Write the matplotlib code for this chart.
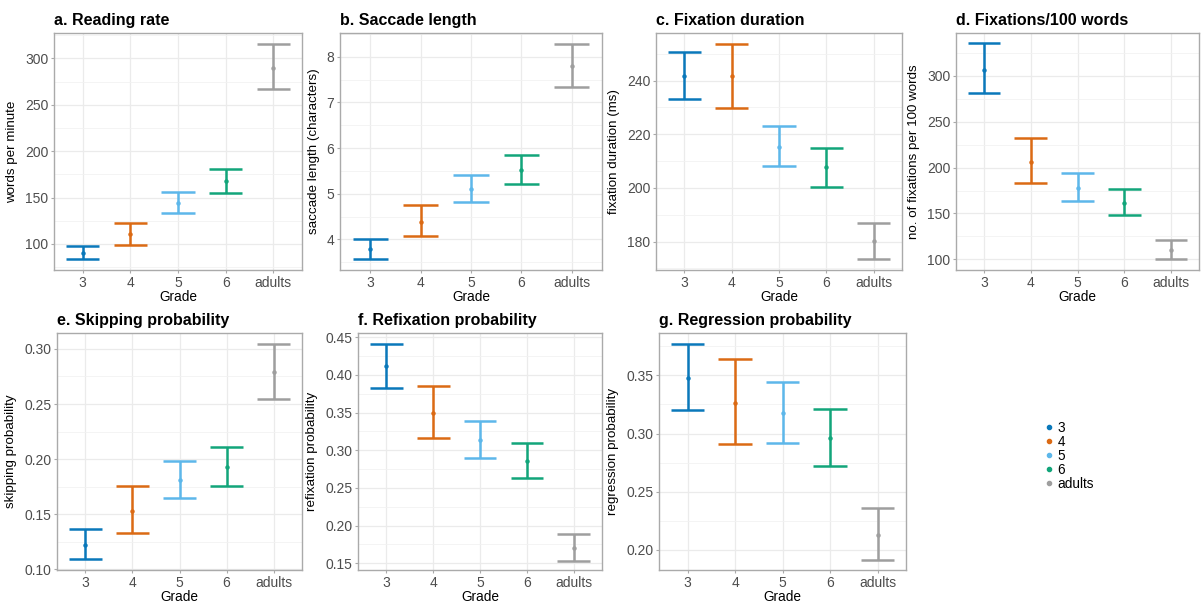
import numpy as np
import matplotlib
matplotlib.use("Agg")
import matplotlib.pyplot as plt
from matplotlib.lines import Line2D
from matplotlib.ticker import MultipleLocator

plt.rcParams['font.family'] = ['Liberation Sans', 'DejaVu Sans']

groups = ["3", "4", "5", "6", "adults"]
colors = ["#0A78BA", "#DB6A14", "#5DB7EA", "#12A57A", "#9E9E9E"]

# mean, lower, upper per group
rate_mean = [90.3, 110.8, 144.6, 167.4, 289.9]
rate_low = [83.4, 99.2, 133.8, 154.8, 266.5]
rate_high = [97.8, 123.0, 156.5, 181.0, 315.9]

sacc_mean = [3.78, 4.39, 5.11, 5.51, 7.79]
sacc_low = [3.56, 4.07, 4.82, 5.22, 7.33]
sacc_high = [4.00, 4.76, 5.40, 5.84, 8.28]

fixdur_mean = [241.6, 241.5, 215.2, 207.6, 180.1]
fixdur_low = [233.1, 229.9, 208.0, 200.4, 173.4]
fixdur_high = [250.5, 253.5, 222.9, 215.0, 186.9]

nfix_mean = [306.6, 206.1, 177.8, 161.6, 109.9]
nfix_low = [280.7, 183.1, 163.4, 148.3, 100.3]
nfix_high = [335.3, 232.3, 193.9, 176.4, 120.7]

skip_mean = [0.1226, 0.1528, 0.1812, 0.1929, 0.2786]
skip_low = [0.1099, 0.1327, 0.1645, 0.1760, 0.2546]
skip_high = [0.1367, 0.1760, 0.1985, 0.2108, 0.3042]

refix_mean = [0.4116, 0.3500, 0.3139, 0.2863, 0.1705]
refix_low = [0.3832, 0.3164, 0.2894, 0.2635, 0.1537]
refix_high = [0.4411, 0.3850, 0.3395, 0.3094, 0.1891]

regr_mean = [0.3477, 0.3260, 0.3174, 0.2961, 0.2129]
regr_low = [0.3199, 0.2908, 0.2916, 0.2719, 0.1917]
regr_high = [0.3769, 0.3641, 0.3445, 0.3213, 0.2358]

W, H = 1201, 603
fig = plt.figure(figsize=(W / 100, H / 100), dpi=100)


def px_axes(left, right, top, bottom):
    return fig.add_axes([left / W, 1 - bottom / H, (right - left) / W, (bottom - top) / H])


def panel(ax, title, ylabel, mean, low, high, ylim, major, fmt):
    x = np.arange(len(groups))
    for i in range(len(groups)):
        ax.vlines(x[i], low[i], high[i], color=colors[i], lw=1.8)
        ax.hlines([low[i], high[i]], x[i] - 0.35, x[i] + 0.35, color=colors[i], lw=1.8)
        ax.plot(x[i], mean[i], 'o', color=colors[i], ms=2.2)
    ax.set_ylim(*ylim)
    ax.set_xlim(-0.6, 4.6)
    ax.set_xticks(x)
    ax.set_xticklabels(groups)
    ax.yaxis.set_major_locator(MultipleLocator(major))
    ax.yaxis.set_minor_locator(MultipleLocator(major / 2))
    ax.yaxis.set_major_formatter(plt.FormatStrFormatter(fmt))
    ax.grid(True, which='major', color='#ebebeb', lw=0.9)
    ax.grid(True, which='minor', axis='y', color='#f2f2f2', lw=0.6)
    ax.set_axisbelow(True)
    for s in ax.spines.values():
        s.set_color('#aaaaaa')
        s.set_linewidth(1.0)
    ax.tick_params(which='major', colors='#4d4d4d', labelsize=10, length=2.5, width=0.8, pad=1.5)
    ax.tick_params(which='minor', length=0)
    ax.tick_params(axis='both', which='major', color='#aaaaaa')
    ax.set_xlabel("Grade", fontsize=9.8, labelpad=0)
    ax.set_ylabel(ylabel, fontsize=9.6, labelpad=5)
    ax.set_title(title, fontsize=11.5, fontweight='bold', loc='left', pad=6)


ax = px_axes(54, 302, 33, 270)
panel(ax, "a. Reading rate", "words per minute", rate_mean, rate_low, rate_high,
      (71.9, 327.4), 50, '%d')
ax = px_axes(340, 602, 33, 270)
panel(ax, "b. Saccade length", "saccade length (characters)", sacc_mean, sacc_low, sacc_high,
      (3.33, 8.52), 1, '%d')
ax = px_axes(656, 902, 33, 270)
panel(ax, "c. Fixation duration", "fixation duration (ms)", fixdur_mean, fixdur_low, fixdur_high,
      (169.4, 257.7), 20, '%d')
ax = px_axes(956, 1199, 33, 270)
panel(ax, "d. Fixations/100 words", "no. of fixations per 100 words", nfix_mean, nfix_low, nfix_high,
      (88.4, 346.6), 50, '%d')
ax = px_axes(57, 302, 333, 570)
panel(ax, "e. Skipping probability", "skipping probability", skip_mean, skip_low, skip_high,
      (0.0995, 0.3144), 0.05, '%.2f')
ax = px_axes(358, 602, 333, 570)
panel(ax, "f. Refixation probability", "refixation probability", refix_mean, refix_low, refix_high,
      (0.1411, 0.4557), 0.05, '%.2f')
ax = px_axes(659, 906, 333, 570)
panel(ax, "g. Regression probability", "regression probability", regr_mean, regr_low, regr_high,
      (0.1828, 0.3863), 0.05, '%.2f')

handles = [Line2D([], [], marker='o', ls='none', color=c, ms=3) for c in colors]
fig.legend(handles, groups, loc='center left', bbox_to_anchor=(1044 / W, 1 - 456 / H),
           frameon=False, fontsize=9.8, handletextpad=0.2, labelspacing=0.0,
           handlelength=0.8, borderaxespad=0, borderpad=0)

fig.savefig("out.png", dpi=100)
